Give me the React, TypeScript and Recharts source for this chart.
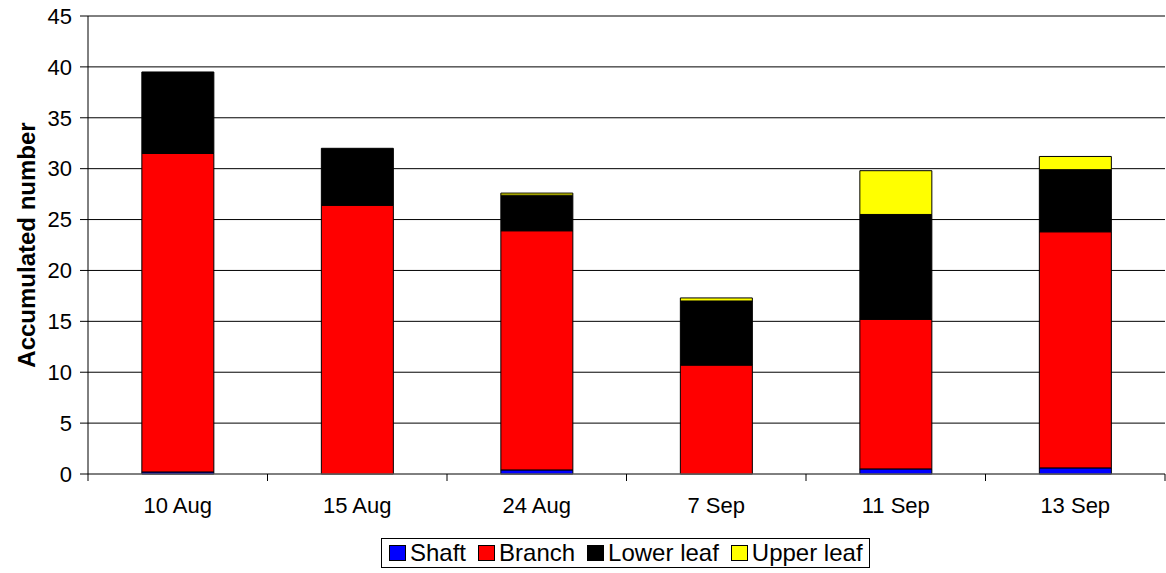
import React from 'react';
import { BarChart, Bar, XAxis, YAxis, CartesianGrid, Legend, Label } from 'recharts';

const categories = ['10 Aug', '15 Aug', '24 Aug', '7 Sep', '11 Sep', '13 Sep'];
const shaft = [0.2, 0.0, 0.4, 0.0, 0.5, 0.6];
const branch = [31.3, 26.4, 23.5, 10.7, 14.7, 23.2];
const lowerLeaf = [8.0, 5.6, 3.5, 6.3, 10.3, 6.1];
const upperLeaf = [0.0, 0.0, 0.2, 0.3, 4.3, 1.3];
const yTicks = [0, 5, 10, 15, 20, 25, 30, 35, 40, 45];

const seriesInfo = [
  { key: 'shaft', name: 'Shaft', color: '#0000FF' },
  { key: 'branch', name: 'Branch', color: '#FF0000' },
  { key: 'lower', name: 'Lower leaf', color: '#000000' },
  { key: 'upper', name: 'Upper leaf', color: '#FFFF00' },
];

const data = categories.map((c, i) => ({
  cat: c,
  shaft: shaft[i],
  branch: branch[i],
  lower: lowerLeaf[i],
  upper: upperLeaf[i],
}));

const W = 1166;
const H = 573;
const LEFT = 88;
const RIGHT = 1;
const HALF = (W - LEFT - RIGHT) / categories.length / 2;
const FONT = 'Liberation Sans, Arial, sans-serif';

const XTick = (props: any) => {
  const { x, y, payload, index } = props;
  const top = y - 16 - 7;
  return (
    <g>
      <line x1={x - HALF} x2={x - HALF} y1={top} y2={top + 7} stroke="#000" />
      {index === categories.length - 1 && (
        <line x1={x + HALF} x2={x + HALF} y1={top} y2={top + 7} stroke="#000" />
      )}
      <text x={x} y={y} dy="0.71em" textAnchor="middle" fontSize={22} fill="#000" fontFamily={FONT}>
        {payload.value}
      </text>
    </g>
  );
};

const YLabel = (props: any) => {
  const vb = props.viewBox || {};
  const cy = (vb.y || 0) + (vb.height || 0) / 2;
  return (
    <text
      x={26}
      y={cy}
      transform={`rotate(-90, 26, ${cy})`}
      textAnchor="middle"
      dominantBaseline="central"
      fontSize={24}
      fontWeight="bold"
      fill="#000"
      fontFamily={FONT}
    >
      Accumulated number
    </text>
  );
};

const LegendContent = () => (
  <div
    style={{
      display: 'flex',
      alignItems: 'center',
      boxSizing: 'border-box',
      width: 489,
      height: 30,
      border: '1px solid #000',
      padding: '0 0 0 7px',
      fontFamily: FONT,
      fontSize: 24,
      lineHeight: '28px',
      background: '#fff',
      whiteSpace: 'nowrap',
    }}
  >
    {seriesInfo.map((s, i) => (
      <span key={s.key} style={{ display: 'inline-flex', alignItems: 'center', marginRight: i < 3 ? 12 : 0 }}>
        <span
          style={{
            display: 'inline-block',
            boxSizing: 'border-box',
            width: 17,
            height: 16,
            background: s.color,
            border: '1px solid #000',
            marginRight: 4,
          }}
        />
        <span>{s.name}</span>
      </span>
    ))}
  </div>
);

export default function App() {
  return (
    <div style={{ position: 'absolute', left: 0, top: 0, width: W, height: H, background: '#fff' }}>
      <BarChart
        width={W}
        height={H}
        data={data}
        margin={{ top: 16, right: RIGHT, left: 0, bottom: 5 }}
        barCategoryGap="30%"
      >
        <CartesianGrid vertical={false} stroke="#000" strokeWidth={1} />
        <XAxis
          dataKey="cat"
          height={64}
          axisLine={{ stroke: '#808080' }}
          tickLine={false}
          tick={<XTick />}
          tickSize={7}
          tickMargin={16}
          interval={0}
        />
        <YAxis
          width={LEFT}
          domain={[0, 45]}
          ticks={yTicks}
          interval={0}
          axisLine={{ stroke: '#000' }}
          tickLine={{ stroke: '#000' }}
          tickSize={8}
          tickMargin={8}
          tick={{ fontSize: 22, fill: '#000', fontFamily: FONT }}
        >
          <Label content={<YLabel />} />
        </YAxis>
        <Legend
          verticalAlign="bottom"
          content={<LegendContent />}
          wrapperStyle={{ left: 381, width: 489, height: 30, bottom: 5 }}
        />
        {seriesInfo.map((s) => (
          <Bar
            key={s.key}
            dataKey={s.key}
            name={s.name}
            stackId="a"
            fill={s.color}
            stroke="#000"
            strokeWidth={1}
            isAnimationActive={false}
          />
        ))}
      </BarChart>
    </div>
  );
}
